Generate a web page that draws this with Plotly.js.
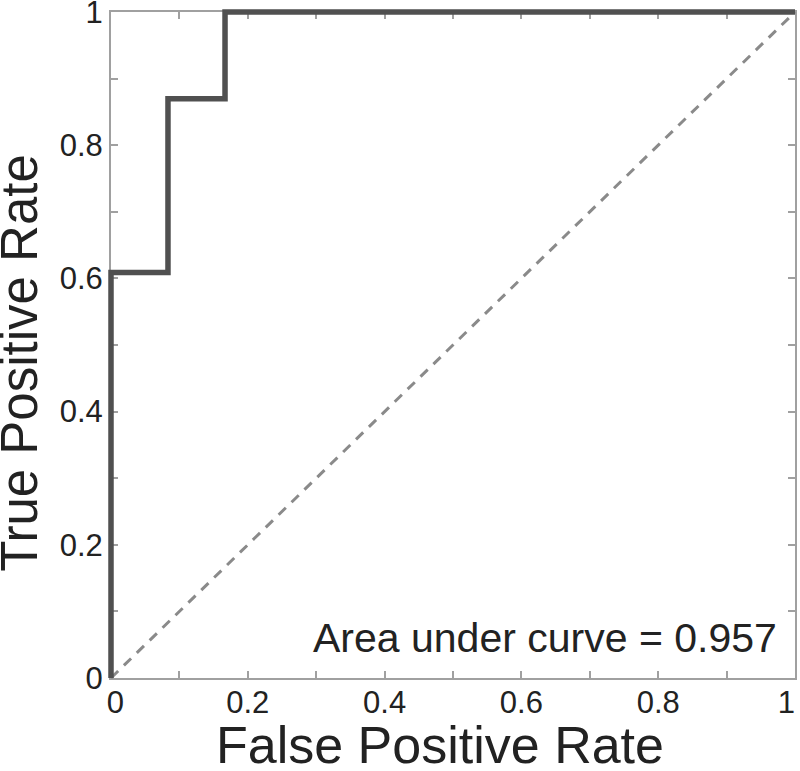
<!DOCTYPE html>
<html>
<head>
<meta charset="utf-8">
<script src="https://cdn.plot.ly/plotly-3.0.1.min.js"></script>
<style>html,body{margin:0;padding:0;background:#fff;}#chart{width:800px;height:771px;}</style>
</head>
<body>
<div id="chart"></div>
<script>
// ROC curve data
const fpr = [0, 0, 0.0833, 0.0833, 0.1667, 0.1667, 1];
const tpr = [0, 0.6087, 0.6087, 0.8696, 0.8696, 1, 1];
// chance diagonal
const chanceX = [0, 1];
const chanceY = [0, 1];
const tickVals = [0, 0.1, 0.2, 0.3, 0.4, 0.5, 0.6, 0.7, 0.8, 0.9, 1];
const tickText = ["0", "", "0.2", "", "0.4", "", "0.6", "", "0.8", "", "1"];
const aucLabel = "Area under curve = 0.957";

// x tick labels: nudge the end labels inward like the reference
const xTickText = tickText.map((t, i) =>
  i === 0 ? "\u00a0" + t : (i === tickText.length - 1 ? t + "\u00a0\u00a0" : t));

const traces = [
  {x: chanceX, y: chanceY, mode: 'lines', cliponaxis: false,
   line: {color: '#8a8a8a', width: 3, dash: '10px,8px'}, hoverinfo: 'skip'},
  {x: fpr, y: tpr, mode: 'lines', cliponaxis: false,
   line: {color: '#505050', width: 5.5, shape: 'linear'}}
];

const tickFont = {family: '"Liberation Sans", Arial, sans-serif', size: 31, color: '#222'};
const axisCommon = {
  range: [0, 1], showgrid: false, zeroline: false,
  showline: true, mirror: 'ticks', linecolor: '#a0a0a0', linewidth: 2,
  ticks: 'inside', ticklen: 7, tickwidth: 2, tickcolor: '#a0a0a0',
  tickmode: 'array', tickvals: tickVals,
  tickfont: tickFont, ticklabeloverflow: 'allow',
  layer: 'below traces', fixedrange: true, automargin: false
};

const layout = {
  width: 800, height: 771,
  margin: {l: 111, r: 5, t: 12, b: 93, pad: 0},
  paper_bgcolor: '#fff', plot_bgcolor: '#fff',
  showlegend: false,
  font: {family: '"Liberation Sans", Arial, sans-serif', color: '#222'},
  xaxis: Object.assign({}, axisCommon, {
    ticktext: xTickText, ticklabelstandoff: -4,
    title: {text: 'False Positive Rate', font: {size: 52, color: '#222'}, standoff: 16}
  }),
  yaxis: Object.assign({}, axisCommon, {
    ticktext: tickText, ticklabelstandoff: 0,
    title: {text: 'True Positive Rate', font: {size: 51, color: '#222'}, standoff: 20}
  }),
  annotations: [{
    xref: 'paper', yref: 'paper', x: 0.977, y: 0.023,
    xanchor: 'right', yanchor: 'bottom', showarrow: false,
    text: aucLabel, font: {size: 41, color: '#222', family: '"Liberation Sans", Arial, sans-serif'}
  }]
};

function unclip() {
  document.querySelectorAll('#chart .cartesianlayer [clip-path], #chart .cartesianlayer [style*="clip-path"]').forEach(function (el) {
    el.removeAttribute('clip-path');
    el.style.clipPath = 'none';
  });
}
function nudgeTitles() {
  const yt = document.querySelector('#chart .ytitle');
  if (yt && !yt.dataset.nudged) {
    yt.dataset.nudged = '1';
    yt.setAttribute('transform', 'translate(-9,18) ' + (yt.getAttribute('transform') || ''));
  }
  const xt = document.querySelector('#chart .xtitle');
  if (xt && !xt.dataset.nudged) {
    xt.dataset.nudged = '1';
    xt.setAttribute('transform', 'translate(-13,3) ' + (xt.getAttribute('transform') || ''));
  }
}

Plotly.newPlot('chart', traces, layout, {displayModeBar: false, staticPlot: true}).then(function () {
  unclip();
  nudgeTitles();
});
</script>
</body>
</html>
